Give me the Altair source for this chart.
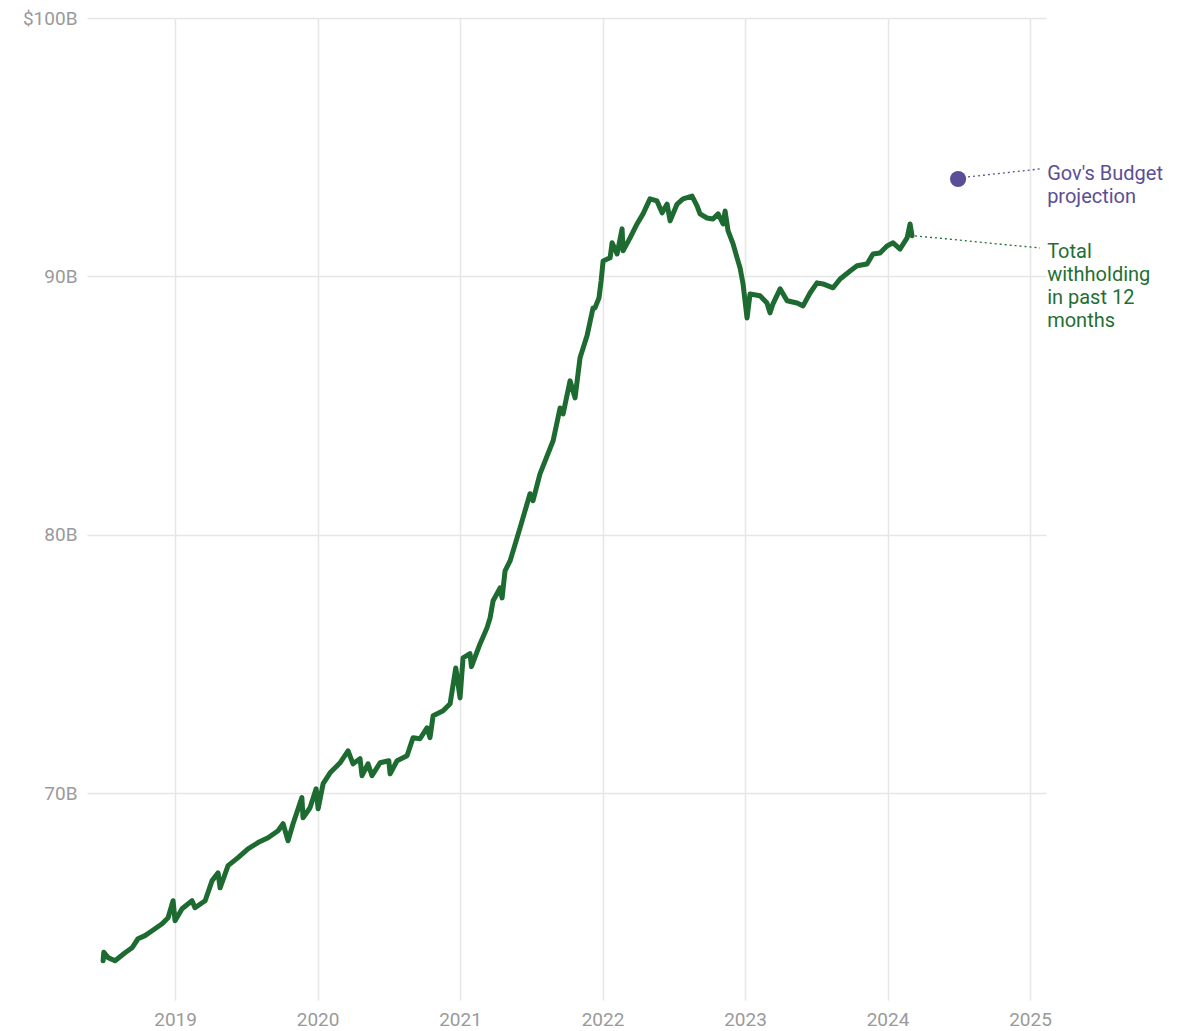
import altair as alt
import pandas as pd

# Total withholding in past 12 months (decimal year, $B)
years = [
    2018.495, 2018.500, 2018.530, 2018.579, 2018.649, 2018.698, 2018.740, 2018.789,
    2018.839, 2018.909, 2018.951, 2018.986, 2019.000, 2019.049, 2019.119, 2019.140,
    2019.211, 2019.260, 2019.302, 2019.316, 2019.372, 2019.442, 2019.512, 2019.582,
    2019.653, 2019.723, 2019.758, 2019.793, 2019.828, 2019.890, 2019.898, 2019.947,
    2019.990, 2020.004, 2020.039, 2020.088, 2020.158, 2020.214, 2020.249, 2020.298,
    2020.312, 2020.354, 2020.382, 2020.439, 2020.500, 2020.509, 2020.558, 2020.628,
    2020.670, 2020.719, 2020.768, 2020.789, 2020.811, 2020.881, 2020.930, 2020.970,
    2021.000, 2021.021, 2021.070, 2021.080, 2021.140, 2021.189, 2021.211, 2021.232,
    2021.281, 2021.295, 2021.316, 2021.351, 2021.421, 2021.491, 2021.512, 2021.561,
    2021.653, 2021.702, 2021.723, 2021.772, 2021.807, 2021.842, 2021.891, 2021.933,
    2021.947, 2021.975, 2021.990, 2022.004, 2022.053, 2022.067, 2022.102, 2022.137,
    2022.144, 2022.193, 2022.242, 2022.284, 2022.333, 2022.382, 2022.418, 2022.453,
    2022.474, 2022.523, 2022.565, 2022.628, 2022.663, 2022.684, 2022.733, 2022.775,
    2022.811, 2022.846, 2022.860, 2022.881, 2022.916, 2022.944, 2022.965, 2022.986,
    2023.014, 2023.035, 2023.105, 2023.154, 2023.175, 2023.196, 2023.246, 2023.295,
    2023.365, 2023.407, 2023.456, 2023.505, 2023.547, 2023.618, 2023.667, 2023.737,
    2023.786, 2023.856, 2023.898, 2023.947, 2023.996, 2024.039, 2024.088, 2024.137,
    2024.158, 2024.172,
]
values = [
    63.52, 63.85, 63.64, 63.52, 63.83, 64.02, 64.37, 64.49,
    64.68, 64.95, 65.18, 65.84, 65.07, 65.53, 65.84, 65.57,
    65.84, 66.62, 66.92, 66.34, 67.20, 67.51, 67.85, 68.09,
    68.28, 68.55, 68.82, 68.16, 68.82, 69.83, 69.05, 69.44,
    70.17, 69.40, 70.37, 70.79, 71.18, 71.64, 71.14, 71.34,
    70.68, 71.14, 70.68, 71.18, 71.26, 70.75, 71.26, 71.45,
    72.15, 72.11, 72.53, 72.15, 73.00, 73.19, 73.46, 74.85,
    73.69, 75.24, 75.40, 74.90, 75.78, 76.40, 76.79, 77.45,
    77.95, 77.56, 78.61, 78.99, 80.27, 81.59, 81.32, 82.36,
    83.64, 84.91, 84.68, 85.96, 85.30, 86.85, 87.70, 88.78,
    88.78, 89.17, 89.83, 90.60, 90.72, 91.30, 90.87, 91.84,
    90.99, 91.49, 92.03, 92.42, 93.00, 92.92, 92.46, 92.80,
    92.15, 92.80, 93.00, 93.11, 92.73, 92.42, 92.26, 92.22,
    92.42, 92.03, 92.53, 91.76, 91.26, 90.72, 90.33, 89.71,
    88.39, 89.32, 89.25, 88.97, 88.59, 88.94, 89.52, 89.06,
    88.97, 88.86, 89.36, 89.75, 89.71, 89.56, 89.90, 90.21,
    90.41, 90.48, 90.87, 90.91, 91.18, 91.30, 91.06, 91.49,
    92.03, 91.57,
]

# Budget projection point
budget_year = [2024.495]
budget_value = [93.77]

# Axis ticks
x_ticks = [2019, 2020, 2021, 2022, 2023, 2024, 2025]
y_ticks = [70, 80, 90, 100]

# Annotation labels and their leader lines
label_texts = ["Gov's Budget\nprojection", "Total\nwithholding\nin past 12\nmonths"]
label_year = [2025.12, 2025.12]
label_value = [93.73, 90.73]
label_colors = ["#5b4e96", "#1f6f33"]
leader_x1 = [2024.565, 2024.193]
leader_x2 = [2025.070, 2025.070]
leader_y1 = [93.85, 91.57]
leader_y2 = [94.16, 91.10]

GREEN = "#1d6b31"
PURPLE = "#5b4e96"
FONT = "Roboto"

series = pd.DataFrame({"year": years, "value": values})
budget = pd.DataFrame({"year": budget_year, "value": budget_value})
labels = pd.DataFrame({"year": label_year, "value": label_value,
                       "text": label_texts, "color": label_colors})
leaders = pd.DataFrame({"x1": leader_x1, "x2": leader_x2, "y1": leader_y1,
                        "y2": leader_y2, "color": label_colors})

x_scale = alt.Scale(domain=[2018.382, 2025.112], nice=False, zero=False)
y_scale = alt.Scale(domain=[62, 100], nice=False, zero=False)

x_axis = alt.Axis(values=x_ticks, format="d", title=None, grid=True, ticks=False,
                  domain=False, labelPadding=10, labelFontSize=19, labelFont=FONT,
                  labelColor="#9a9a9a", gridColor="#e6e6e6", gridWidth=1.5)
y_axis = alt.Axis(values=y_ticks, title=None, grid=True, ticks=False, domain=False,
                  labelExpr="datum.value == 100 ? '$100B' : datum.value + 'B'",
                  labelPadding=10, labelFontSize=19, labelFont=FONT,
                  labelColor="#9a9a9a", gridColor="#e6e6e6", gridWidth=1.5,
                  labelBaseline="middle")

line = alt.Chart(series).mark_line(color=GREEN, strokeWidth=5,
                                   strokeJoin="round", strokeCap="round").encode(
    x=alt.X("year:Q", scale=x_scale, axis=x_axis),
    y=alt.Y("value:Q", scale=y_scale, axis=y_axis),
)

lead = alt.Chart(leaders).mark_rule(strokeDash=[2, 3], strokeWidth=1.3).encode(
    x=alt.X("x1:Q", scale=x_scale),
    x2="x2:Q",
    y=alt.Y("y1:Q", scale=y_scale),
    y2="y2:Q",
    color=alt.Color("color:N", scale=None),
)

dot = alt.Chart(budget).mark_circle(size=260, opacity=1, color=PURPLE).encode(
    x=alt.X("year:Q", scale=x_scale),
    y=alt.Y("value:Q", scale=y_scale),
)

text = alt.Chart(labels).mark_text(align="left", baseline="alphabetic", fontSize=20,
                                   font=FONT, lineBreak="\n", lineHeight=23).encode(
    x=alt.X("year:Q", scale=x_scale),
    y=alt.Y("value:Q", scale=y_scale),
    text="text:N",
    color=alt.Color("color:N", scale=None),
)

chart = alt.layer(line, lead, dot, text).properties(
    width=959, height=982,
    autosize=alt.AutoSizeParams(type="none"),
    padding={"left": 79, "top": 10, "right": 130, "bottom": 30},
).configure_view(stroke=None)

chart.save("out.html", embed_options={"renderer": "svg", "actions": False})
